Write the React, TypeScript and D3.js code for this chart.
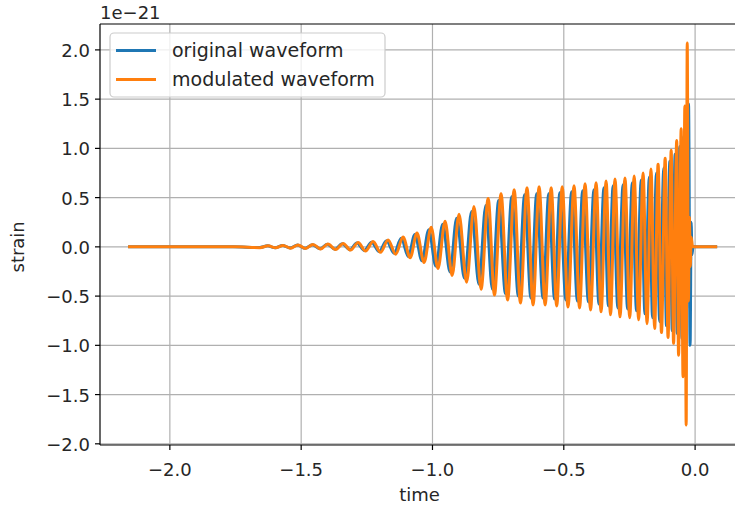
import * as d3 from 'd3';

const WIDTH = 735;
const HEIGHT = 508;
// axes box in pixels (right edge runs past the picture, like the reference crop)
const AXES = { left: 100, right: 745, top: 24, bottom: 445 };

const X_DOMAIN = [-2.266, 0.19];
const Y_DOMAIN = [-2.012, 2.263];
const X_TICKS = [-2.0, -1.5, -1.0, -0.5, 0.0];
const Y_TICKS = [-2.0, -1.5, -1.0, -0.5, 0.0, 0.5, 1.0, 1.5, 2.0];
const SERIES_NAMES = ['original waveform', 'modulated waveform'];
const COLORS = ['#1f77b4', '#ff7f0e'];

// original waveform: time of each extremum (s) and strain there (units of 1e-21)
const originalTimes = [
    -2.159, -1.76, -1.659, -1.628, -1.599, -1.571, -1.542, -1.514, -1.485, -1.457,
    -1.428, -1.401, -1.371, -1.344, -1.314, -1.288, -1.259, -1.232, -1.203, -1.175,
    -1.146, -1.119, -1.092, -1.067, -1.04, -1.014, -0.987, -0.961, -0.933, -0.908,
    -0.878, -0.851, -0.823, -0.797, -0.772, -0.748, -0.722, -0.698, -0.673, -0.649,
    -0.625, -0.603, -0.579, -0.557, -0.535, -0.515, -0.492, -0.47, -0.448, -0.428,
    -0.406, -0.385, -0.366, -0.347, -0.33, -0.312, -0.294, -0.274, -0.257, -0.239,
    -0.223, -0.205, -0.191, -0.174, -0.162, -0.147, -0.135, -0.119, -0.109, -0.096,
    -0.087, -0.076, -0.068, -0.058, -0.05, -0.043, -0.035, -0.025, -0.019, -0.015,
    -0.012, -0.008, 0.084,
];
const originalValues = [
    0, 0, -0.007, 0.01, -0.009, 0.013, -0.011, 0.018, -0.015, 0.022,
    -0.019, 0.027, -0.024, 0.031, -0.029, 0.04, -0.037, 0.048, -0.048, 0.062,
    -0.066, 0.088, -0.097, 0.125, -0.14, 0.175, -0.195, 0.23, -0.255, 0.29,
    -0.32, 0.36, -0.38, 0.42, -0.43, 0.47, -0.475, 0.51, -0.5, 0.53,
    -0.52, 0.54, -0.52, 0.54, -0.53, 0.55, -0.54, 0.56, -0.55, 0.57,
    -0.56, 0.58, -0.58, 0.6, -0.6, 0.62, -0.62, 0.63, -0.63, 0.65,
    -0.65, 0.68, -0.68, 0.71, -0.72, 0.75, -0.76, 0.8, -0.8, 0.87,
    -0.85, 0.94, -0.88, 1.02, -0.93, 1.12, -0.97, 1.45, -1.0, 0.25,
    -0.08, 0, 0,
];

// modulated waveform, same layout
const modulatedTimes = [
    -2.159, -1.75, -1.657, -1.626, -1.597, -1.569, -1.54, -1.512, -1.483, -1.455,
    -1.426, -1.398, -1.369, -1.34, -1.312, -1.283, -1.255, -1.226, -1.198, -1.169,
    -1.14, -1.112, -1.085, -1.059, -1.032, -1.005, -0.979, -0.952, -0.925, -0.899,
    -0.87, -0.842, -0.815, -0.788, -0.764, -0.739, -0.714, -0.689, -0.665, -0.64,
    -0.617, -0.594, -0.571, -0.548, -0.527, -0.506, -0.484, -0.461, -0.44, -0.419,
    -0.398, -0.377, -0.358, -0.339, -0.322, -0.305, -0.286, -0.267, -0.249, -0.232,
    -0.215, -0.198, -0.183, -0.168, -0.154, -0.141, -0.128, -0.114, -0.103, -0.091,
    -0.082, -0.07, -0.063, -0.053, -0.046, -0.039, -0.034, -0.03, -0.0255, -0.0217,
    -0.0183, -0.0152, -0.0095, 0.084,
];
const modulatedValues = [
    0, 0, -0.008, 0.01, -0.01, 0.015, -0.013, 0.02, -0.017, 0.025,
    -0.022, 0.03, -0.027, 0.035, -0.033, 0.045, -0.042, 0.055, -0.055, 0.07,
    -0.075, 0.1, -0.11, 0.14, -0.16, 0.2, -0.22, 0.26, -0.29, 0.33,
    -0.36, 0.41, -0.43, 0.49, -0.49, 0.54, -0.54, 0.58, -0.57, 0.6,
    -0.59, 0.61, -0.59, 0.6, -0.6, 0.61, -0.61, 0.62, -0.62, 0.64,
    -0.64, 0.65, -0.66, 0.67, -0.69, 0.69, -0.71, 0.7, -0.72, 0.72,
    -0.74, 0.75, -0.78, 0.79, -0.83, 0.84, -0.87, 0.9, -0.92, 0.98,
    -0.98, 1.08, -1.1, 1.2, -1.32, 1.43, -1.81, 2.07, -0.55, 0.3,
    -0.2, 0.1, 0, 0,
];

const FONT = '"DejaVu Sans", sans-serif';
const FONT_SIZE = 18;
const LEGEND_FONT_SIZE = 19;
const GRID = '#b0b0b0';
const LINE_WIDTH = 3;

export default function App() {
    const xScale = d3.scaleLinear().domain(X_DOMAIN).range([AXES.left, AXES.right]);
    const yScale = d3.scaleLinear().domain(Y_DOMAIN).range([AXES.bottom, AXES.top]);

    const line = d3
        .line<[number, number]>()
        .x((d) => xScale(d[0]))
        .y((d) => yScale(d[1]))
        .curve(d3.curveMonotoneX);

    const series = [
        originalTimes.map((t, i) => [t, originalValues[i]] as [number, number]),
        modulatedTimes.map((t, i) => [t, modulatedValues[i]] as [number, number]),
    ];

    const fmt = (t: number) => t.toFixed(1).replace('-', '\u2212');

    return (
        <svg
            width={WIDTH}
            height={HEIGHT}
            style={{ position: 'absolute', left: 0, top: 0, background: '#fff' }}
            fontFamily={FONT}
        >
            {/* grid */}
            {X_TICKS.map((t) => (
                <line key={'gx' + t} x1={xScale(t)} x2={xScale(t)} y1={AXES.top} y2={AXES.bottom} stroke={GRID} strokeWidth={1.2} />
            ))}
            {Y_TICKS.map((t) => (
                <line key={'gy' + t} x1={AXES.left} x2={AXES.right} y1={yScale(t)} y2={yScale(t)} stroke={GRID} strokeWidth={1.2} />
            ))}

            {/* the two waveforms */}
            {series.map((s, i) => (
                <path key={i} d={line(s) ?? ''} fill="none" stroke={COLORS[i]} strokeWidth={LINE_WIDTH} strokeLinejoin="round" />
            ))}

            {/* spines */}
            <line x1={AXES.left} x2={AXES.left} y1={AXES.top} y2={AXES.bottom} stroke="#000" strokeWidth={1.2} />
            <line x1={AXES.left} x2={AXES.right} y1={AXES.bottom} y2={AXES.bottom} stroke="#000" strokeWidth={1.2} />
            <line x1={AXES.left} x2={AXES.right} y1={AXES.top} y2={AXES.top} stroke="#000" strokeWidth={1.2} />

            {/* x ticks */}
            {X_TICKS.map((t) => (
                <g key={'xt' + t}>
                    <line x1={xScale(t)} x2={xScale(t)} y1={AXES.bottom} y2={AXES.bottom + 5} stroke="#000" strokeWidth={1.2} />
                    <text x={xScale(t)} y={AXES.bottom + 31} textAnchor="middle" fontSize={FONT_SIZE} fill="#262626">
                        {fmt(t)}
                    </text>
                </g>
            ))}
            {/* y ticks */}
            {Y_TICKS.map((t) => (
                <g key={'yt' + t}>
                    <line x1={AXES.left - 5} x2={AXES.left} y1={yScale(t)} y2={yScale(t)} stroke="#000" strokeWidth={1.2} />
                    <text x={AXES.left - 10} y={yScale(t) + 7} textAnchor="end" fontSize={FONT_SIZE} fill="#262626">
                        {fmt(t)}
                    </text>
                </g>
            ))}

            {/* offset text, axis labels */}
            <text x={AXES.left} y={19} fontSize={FONT_SIZE} fill="#262626">1e{'\u2212'}21</text>
            <text x={(AXES.left + 735) / 2 + 2} y={501} textAnchor="middle" fontSize={FONT_SIZE} fill="#262626">time</text>
            <text transform={`translate(24,${yScale(0)}) rotate(-90)`} textAnchor="middle" fontSize={FONT_SIZE} fill="#262626">strain</text>

            {/* legend */}
            <rect x={110} y={33} width={275} height={64} rx={4} fill="#fff" fillOpacity={0.8} stroke="#cccccc" strokeWidth={1.2} />
            {SERIES_NAMES.map((name, i) => (
                <g key={name}>
                    <line x1={116} x2={156} y1={50.5 + i * 29} y2={50.5 + i * 29} stroke={COLORS[i]} strokeWidth={LINE_WIDTH} />
                    <text x={172} y={57 + i * 29} fontSize={LEGEND_FONT_SIZE} fill="#262626">{name}</text>
                </g>
            ))}
        </svg>
    );
}
